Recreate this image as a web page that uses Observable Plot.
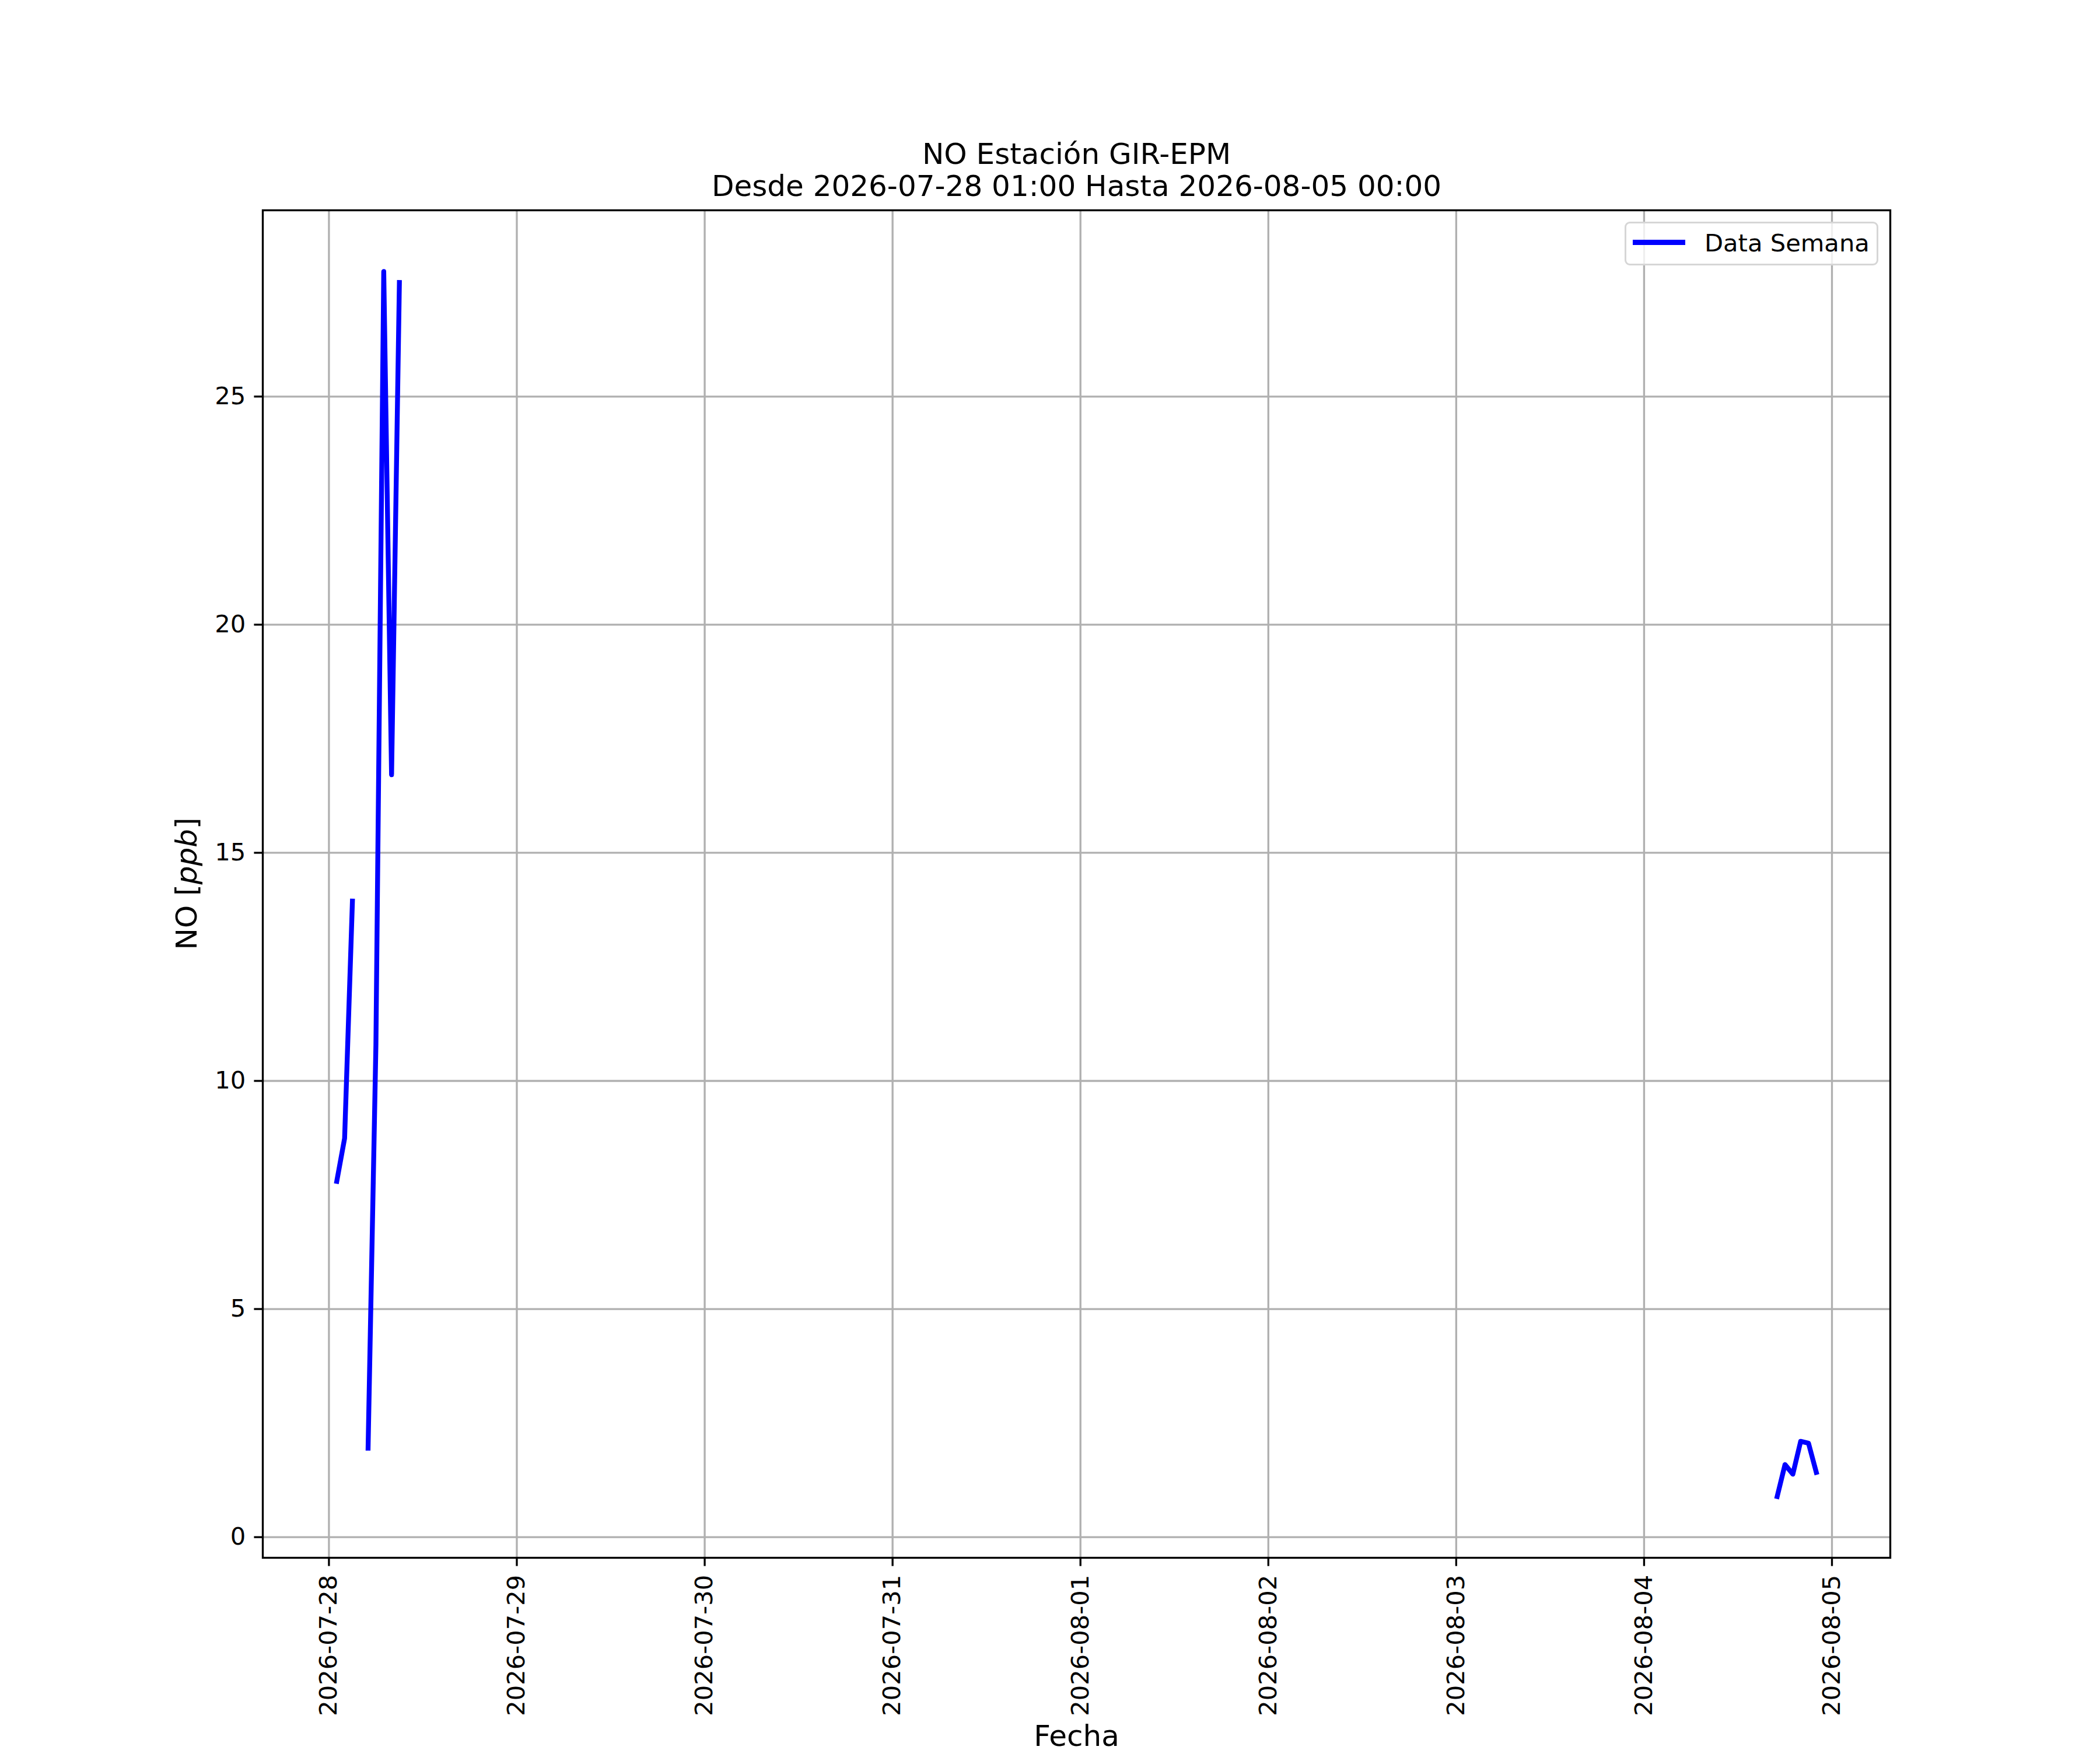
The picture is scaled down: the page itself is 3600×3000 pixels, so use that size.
<!DOCTYPE html>
<html>
<head>
<meta charset="utf-8">
<script src="https://cdn.jsdelivr.net/npm/d3@7"></script>
<script src="https://cdn.jsdelivr.net/npm/@observablehq/plot@0.6"></script>
<style>
  body { margin: 0; background: white; }
  #fig { position: relative; width: 3600px; height: 3000px; background: white; font-family: "DejaVu Sans", sans-serif; color: black; }
  #fig > * { position: absolute; }
</style>
</head>
<body>
<div id="fig"></div>
<script>
// hourly NO readings, null = missing hour (line breaks there)
const times = [
  "2026-07-28T01:00Z", "2026-07-28T02:00Z", "2026-07-28T03:00Z", "2026-07-28T04:00Z",
  "2026-07-28T05:00Z", "2026-07-28T06:00Z", "2026-07-28T07:00Z", "2026-07-28T08:00Z",
  "2026-07-28T09:00Z", "2026-07-28T10:00Z",
  "2026-08-04T17:00Z", "2026-08-04T18:00Z", "2026-08-04T19:00Z", "2026-08-04T20:00Z",
  "2026-08-04T21:00Z", "2026-08-04T22:00Z"
];
const values = [7.80, 8.74, 13.94, null, 1.95, 10.79, 27.74, 16.71, 27.50, null, 0.89, 1.59, 1.38, 2.10, 2.06, 1.42];

const dayTicks = ["2026-07-28", "2026-07-29", "2026-07-30", "2026-07-31", "2026-08-01", "2026-08-02", "2026-08-03", "2026-08-04", "2026-08-05"];
const yTicks = [0, 5, 10, 15, 20, 25];

const titleLines = ["NO Estación GIR-EPM", "Desde 2026-07-28 01:00 Hasta 2026-08-05 00:00"];
const xLabel = "Fecha";
const legendLabel = "Data Semana";

const rows = times.map((t, i) => ({t: new Date(t), v: values[i]}));
const dayDates = dayTicks.map(d => new Date(d + "T00:00Z"));

// matplotlib style 5% margins round the data
const pad = ([a, b]) => { const m = (b - a) * 0.05; return [a - m, b + m]; };
const valid = rows.filter(d => d.v != null);
const xr = pad(d3.extent(valid, d => +d.t));
const yDomain = pad(d3.extent(valid, d => d.v));

const lw = 3.33; // 0.8pt at 300dpi
const fs = 41.67; // 10pt
const chart = Plot.plot({
  width: 3600,
  height: 3000,
  marginLeft: 450,
  marginRight: 360,
  marginTop: 360,
  marginBottom: 330,
  style: {fontFamily: "DejaVu Sans", fontSize: fs + "px", background: "white", color: "black"},
  x: {type: "utc", domain: [new Date(xr[0]), new Date(xr[1])]},
  y: {domain: yDomain},
  marks: [
    Plot.gridX(dayDates, {stroke: "#b0b0b0", strokeOpacity: 1, strokeWidth: lw}),
    Plot.gridY(yTicks, {stroke: "#b0b0b0", strokeOpacity: 1, strokeWidth: lw}),
    Plot.lineY(rows, {x: "t", y: "v", stroke: "blue", strokeWidth: 8.33, strokeLinecap: "square", strokeLinejoin: "round"}),
    Plot.frame({stroke: "black", strokeWidth: lw}),
    Plot.axisX(dayDates, {tickFormat: d3.utcFormat("%Y-%m-%d"), tickRotate: -90, tickSize: 14.6, tickPadding: 14.6, strokeWidth: lw, fontSize: fs, label: null}),
    Plot.axisY(yTicks, {tickFormat: d => String(d), tickSize: 14.6, tickPadding: 14.6, strokeWidth: lw, fontSize: fs, label: null}),
    Plot.text([titleLines[0]], {frameAnchor: "top", dy: -96, fontSize: 50, lineAnchor: "middle"}),
    Plot.text([titleLines[1]], {frameAnchor: "top", dy: -41, fontSize: 50, lineAnchor: "middle"}),
    Plot.text([xLabel], {frameAnchor: "bottom", dy: 306, fontSize: 50, lineAnchor: "middle"})
  ]
});
chart.style.left = "0px";
chart.style.top = "0px";
const fig = document.getElementById("fig");
fig.appendChild(chart);

// y label with italic unit, like mathtext $ppb$
const yl = document.createElement("div");
yl.innerHTML = "NO [<i>ppb</i>]";
Object.assign(yl.style, {left: "320px", top: "1515px", fontSize: "50px", lineHeight: "50px", whiteSpace: "nowrap",
  transform: "translate(-50%,-50%) rotate(-90deg)"});
fig.appendChild(yl);

// legend, upper right
const box = document.createElement("div");
Object.assign(box.style, {left: "2785px", top: "380px", width: "435px", height: "75px", boxSizing: "border-box",
  border: lw + "px solid #d6d6d6", borderRadius: "9px", background: "rgba(255,255,255,0.8)"});
fig.appendChild(box);
const sample = document.createElement("div");
Object.assign(sample.style, {left: "2799px", top: "411.2px", width: "90px", height: "9px", background: "blue"});
fig.appendChild(sample);
const lt = document.createElement("div");
lt.textContent = legendLabel;
Object.assign(lt.style, {left: "2922px", top: "395.5px", fontSize: fs + "px", lineHeight: fs + "px", whiteSpace: "nowrap"});
fig.appendChild(lt);
</script>
</body>
</html>
